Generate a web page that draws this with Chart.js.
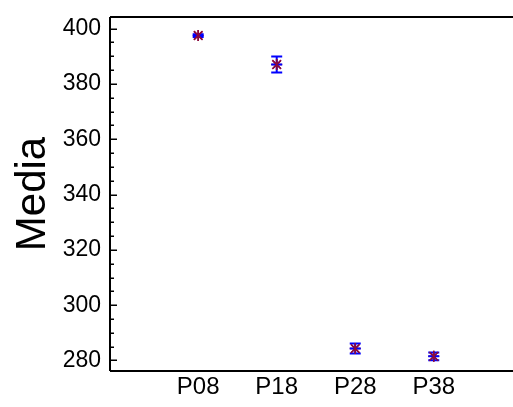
<!DOCTYPE html>
<html>
<head>
<meta charset="utf-8">
<script src="https://cdn.jsdelivr.net/npm/chart.js@4/dist/chart.umd.min.js"></script>
<style>
html,body{margin:0;padding:0;background:#fff;}
#wrap{width:513px;height:407px;position:relative;}
</style>
</head>
<body>
<div id="wrap"><canvas id="c" width="513" height="407"></canvas></div>
<script>
const categories = ["P08", "P18", "P28", "P38"];
const means = [397.5, 387.0, 284.3, 281.5];
const errors = [0.5, 2.9, 1.8, 1.4];
const yTickValues = [280, 285, 290, 295, 300, 305, 310, 315, 320, 325, 330, 335, 340, 345, 350, 355, 360, 365, 370, 375, 380, 385, 390, 395, 400];
const yLabelValues = [280, 300, 320, 340, 360, 380, 400];
const yTitle = "Media";

const points = means.map((m, i) => ({ x: i, y: m }));

const axesPlugin = {
  id: 'axesPlugin',
  afterDatasetsDraw(chart) {
    const ctx = chart.ctx;
    const a = chart.chartArea;
    const ys = chart.scales.y;
    const xs = chart.scales.x;
    ctx.save();
    // error bars
    ctx.strokeStyle = '#0000ff';
    ctx.lineWidth = 2;
    means.forEach((m, i) => {
      const px = xs.getPixelForValue(i);
      const pm = ys.getPixelForValue(m);
      const ph = ys.getPixelForValue(m + errors[i]);
      const pl = ys.getPixelForValue(m - errors[i]);
      const w = 5.5;
      ctx.beginPath();
      ctx.moveTo(px, ph); ctx.lineTo(px, pl);
      ctx.moveTo(px - w, ph); ctx.lineTo(px + w, ph);
      ctx.moveTo(px - w, pl); ctx.lineTo(px + w, pl);
      ctx.moveTo(px - w, pm); ctx.lineTo(px + w, pm);
      ctx.stroke();
    });
    // axes frame (extends to the canvas edge, as in the reference)
    ctx.strokeStyle = '#000';
    ctx.lineWidth = 2;
    ctx.beginPath();
    ctx.moveTo(a.left, a.top); ctx.lineTo(chart.width, a.top);
    ctx.moveTo(a.left, a.bottom); ctx.lineTo(chart.width, a.bottom);
    ctx.moveTo(a.left, a.top); ctx.lineTo(a.left, a.bottom);
    ctx.stroke();
    // inward ticks
    ctx.lineWidth = 1.5;
    ctx.beginPath();
    yTickValues.forEach(v => {
      const py = Math.round(ys.getPixelForValue(v)) + 0.25;
      const len = yLabelValues.includes(v) ? 7 : 4;
      ctx.moveTo(a.left, py); ctx.lineTo(a.left + len, py);
    });
    ctx.stroke();
    // markers on top
    ctx.strokeStyle = '#8b0a3c';
    ctx.lineWidth = 1.6;
    means.forEach((m, i) => {
      const px = xs.getPixelForValue(i);
      const pm = ys.getPixelForValue(m);
      const r = 5.5;
      ctx.beginPath();
      ctx.moveTo(px - r * 0.8, pm - r * 0.8); ctx.lineTo(px + r * 0.8, pm + r * 0.8);
      ctx.moveTo(px - r * 0.8, pm + r * 0.8); ctx.lineTo(px + r * 0.8, pm - r * 0.8);
      ctx.moveTo(px, pm - r); ctx.lineTo(px, pm + r);
      ctx.stroke();
    });
    ctx.restore();
  }
};

new Chart(document.getElementById('c'), {
  type: 'scatter',
  data: {
    datasets: [{
      data: points,
      pointStyle: 'star',
      pointRadius: 5.5,
      pointBorderColor: '#8b0a3c',
      pointBackgroundColor: '#8b0a3c',
      pointBorderWidth: 1.5,
      pointHoverRadius: 5.5
    }]
  },
  options: {
    responsive: false,
    animation: false,
    layout: { padding: { top: 17, right: 0, left: 0, bottom: 0 } },
    plugins: { legend: { display: false }, tooltip: { enabled: false } },
    scales: {
      x: {
        type: 'linear',
        min: -1.123,
        max: 3.92,
        afterBuildTicks(s) { s.ticks = categories.map((c, i) => ({ value: i })); },
        afterFit(s) { s.height = 36; s.paddingLeft = 0; s.paddingRight = 0; },
        grid: { display: false, drawTicks: false },
        border: { display: false },
        ticks: {
          autoSkip: false,
          maxRotation: 0,
          padding: 2,
          color: '#000',
          font: { family: 'Liberation Sans, Arial, sans-serif', size: 24 },
          callback: (v) => categories[v] ?? ''
        }
      },
      y: {
        min: 276.2,
        max: 404.2,
        afterBuildTicks(s) { s.ticks = yTickValues.map(v => ({ value: v })); },
        afterFit(s) { s.width = 110; s.paddingTop = 0; s.paddingBottom = 0; },
        grid: { display: false, drawTicks: false },
        border: { display: false },
        ticks: {
          autoSkip: false,
          padding: 9,
          color: '#000',
          font: { family: 'Liberation Sans, Arial, sans-serif', size: 23 },
          callback: (v) => yLabelValues.includes(v) ? String(v) : ''
        },
        title: {
          display: true,
          text: yTitle,
          color: '#000',
          font: { family: 'Liberation Sans, Arial, sans-serif', size: 42, lineHeight: 1.0 },
          padding: { top: 12, bottom: 0 }
        }
      }
    }
  },
  plugins: [axesPlugin]
});
</script>
</body>
</html>
